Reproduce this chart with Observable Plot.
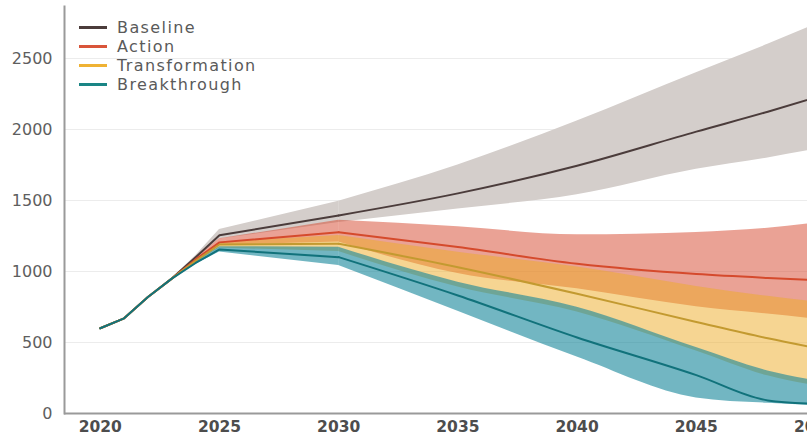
<!DOCTYPE html>
<html>
<head>
<meta charset="utf-8">
<script src="https://cdn.jsdelivr.net/npm/d3@7"></script>
<script src="https://cdn.jsdelivr.net/npm/@observablehq/plot@0.6"></script>
<style>
  html, body { margin: 0; padding: 0; background: #fff; overflow: hidden; }
  #wrap { position: relative; width: 807px; height: 437px; overflow: hidden; }
  #chart svg { max-width: none !important; }
  #legend { position: absolute; left: 79px; top: 18px; font-family: "DejaVu Sans", sans-serif;
            font-size: 16px; letter-spacing: 1.4px; color: #5a5a5a; }
  #legend .row { display: flex; align-items: center; height: 19px; }
  #legend .sw { width: 28px; height: 2.5px; margin-right: 10px; }
  svg text { font-family: "DejaVu Sans", sans-serif; }
</style>
</head>
<body>
<div id="wrap">
  <div id="chart"></div>
  <div id="legend"></div>
</div>
<script>
const years = [2020, 2021, 2022, 2023, 2024, 2025, 2030, 2035, 2040, 2045, 2048, 2050];

const baseline   = [600, 670, 820, 950, 1100, 1255, 1395, 1550, 1745, 1985, 2125, 2225];
const baselineLo = [600, 670, 820, 950, 1090, 1228, 1345, 1440, 1540, 1720, 1800, 1860];
const baselineHi = [600, 670, 820, 950, 1110, 1295, 1495, 1750, 2060, 2400, 2600, 2740];

const action     = [600, 670, 820, 950, 1085, 1205, 1277, 1172, 1054, 982, 955, 940];
const actionLo   = [600, 670, 820, 950, 1075, 1185, 1207, 986, 878, 752, 700, 665];
const actionHi   = [600, 670, 820, 950, 1095, 1230, 1360, 1315, 1258, 1275, 1305, 1340];

const transformation = [600, 670, 820, 950, 1075, 1190, 1195, 1030, 843, 645, 530, 462];
const transLo        = [600, 670, 820, 950, 1065, 1165, 1140, 890, 715, 440, 265, 195];
const transHi        = [600, 670, 820, 950, 1085, 1205, 1254, 1136, 1031, 895, 825, 785];

const breakthrough = [600, 670, 820, 950, 1060, 1155, 1101, 831, 535, 270, 92, 68];
const breakLo      = [600, 670, 820, 950, 1050, 1138, 1042, 720, 397, 110, 72, 55];
const breakHi      = [600, 670, 820, 950, 1070, 1175, 1171, 925, 749, 465, 300, 232];

const scenarioNames = ["Baseline", "Action", "Transformation", "Breakthrough"];
const xTicks = [2020, 2025, 2030, 2035, 2040, 2045, 2050];
const yTicks = [0, 500, 1000, 1500, 2000, 2500];

const seriesDefs = [
  {name: "Baseline", v: baseline, lo: baselineLo, hi: baselineHi,
   band: "#d4cecb", bandOpacity: 1, line: "#4b3c3b", legend: "#4b3c3b"},
  {name: "Action", v: action, lo: actionLo, hi: actionHi,
   band: "#d5452c", bandOpacity: 0.5, line: "#d54a2c", legend: "#d9553a"},
  {name: "Transformation", v: transformation, lo: transLo, hi: transHi,
   band: "#edab25", bandOpacity: 0.5, line: "#c39a30", legend: "#efb234"},
  {name: "Breakthrough", v: breakthrough, lo: breakLo, hi: breakHi,
   band: "#148599", bandOpacity: 0.6, line: "#11727b", legend: "#1a8585"}
];

const rowsFor = s => years.map((yr, i) => ({year: yr, v: s.v[i], lo: s.lo[i], hi: s.hi[i]}));
// history + first projection leg drawn straight, later projection smoothed
const early = rows => rows.filter(d => d.year <= 2030);
const late = rows => rows.filter(d => d.year >= 2030);

const marks = [
  Plot.gridY(yTicks.slice(1), {stroke: "#ececec", strokeOpacity: 1, strokeWidth: 1})
];
for (const s of seriesDefs) {
  const rows = rowsFor(s);
  marks.push(Plot.areaY(early(rows), {x: "year", y1: "lo", y2: "hi", fill: s.band,
    fillOpacity: s.bandOpacity, curve: "linear"}));
  marks.push(Plot.areaY(late(rows), {x: "year", y1: "lo", y2: "hi", fill: s.band,
    fillOpacity: s.bandOpacity, curve: "monotone-x"}));
}
for (const s of seriesDefs) {
  const rows = rowsFor(s);
  marks.push(Plot.lineY(early(rows), {x: "year", y: "v", stroke: s.line, strokeWidth: 2,
    curve: "linear", strokeLinejoin: "round"}));
  marks.push(Plot.lineY(late(rows), {x: "year", y: "v", stroke: s.line, strokeWidth: 2,
    curve: "monotone-x"}));
}
marks.push(
  Plot.axisX(xTicks, {tickSize: 0, tickPadding: 7, fontSize: 15.5, fontWeight: "bold",
    fill: "#4d4d4d", tickFormat: d => String(d), label: null, style: "letter-spacing:1.4px"}),
  Plot.axisY(yTicks, {tickSize: 0, tickPadding: 12, fontSize: 16, fill: "#5e5e5e",
    tickFormat: d => String(d), label: null, style: "letter-spacing:1.6px"}),
  Plot.ruleY([0], {stroke: "#9a9a9a", strokeWidth: 2}),
  Plot.frame({anchor: "left", stroke: "#9a9a9a", strokeWidth: 2})
);

const chart = Plot.plot({
  width: 840, height: 437,
  marginLeft: 64, marginRight: 25, marginTop: 6, marginBottom: 24,
  x: {domain: [2018.5, 2050], label: null},
  y: {domain: [0, 2866], label: null},
  style: {background: "#fff", overflow: "visible", maxWidth: "none"},
  marks
});
document.getElementById("chart").appendChild(chart);

const legend = document.getElementById("legend");
seriesDefs.forEach((s, i) => {
  const row = document.createElement("div");
  row.className = "row";
  const sw = document.createElement("div");
  sw.className = "sw";
  sw.style.background = s.legend;
  const t = document.createElement("span");
  t.textContent = scenarioNames[i];
  row.appendChild(sw); row.appendChild(t);
  legend.appendChild(row);
});
</script>
</body>
</html>
